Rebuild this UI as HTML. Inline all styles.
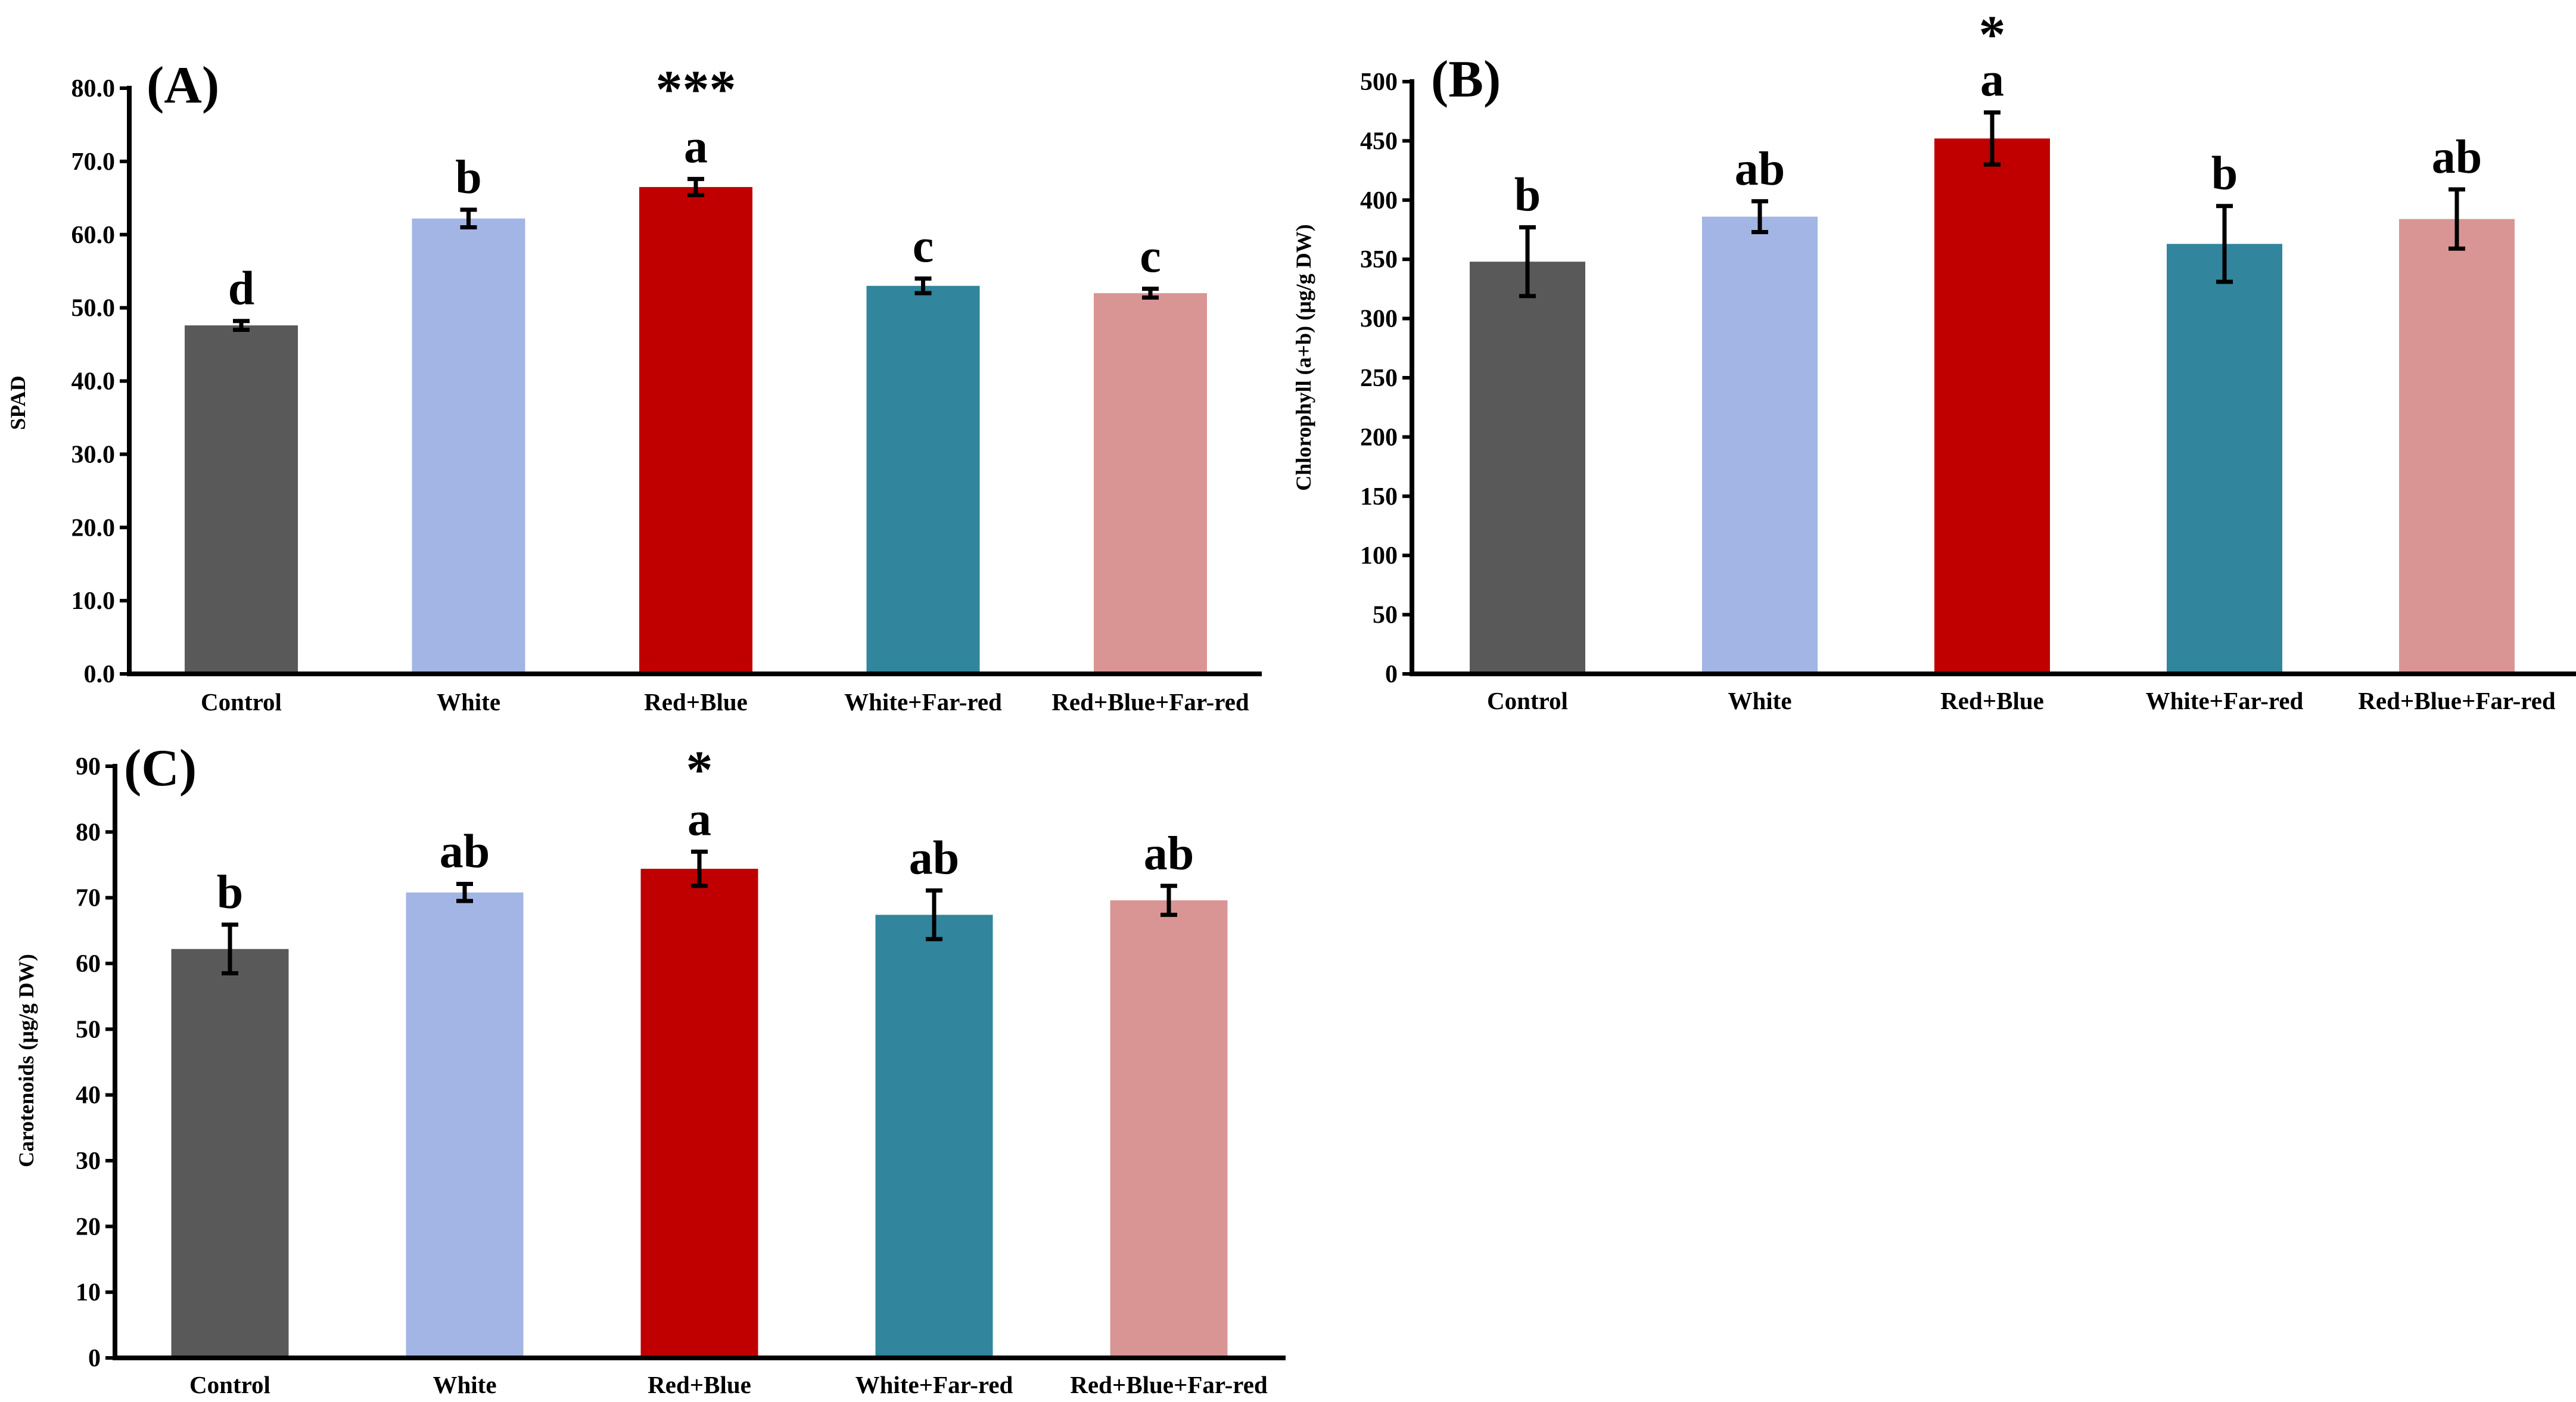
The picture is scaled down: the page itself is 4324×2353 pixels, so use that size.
<!DOCTYPE html>
<html><head><meta charset="utf-8"><style>
html,body{margin:0;padding:0;background:#fff;}
svg{display:block;font-family:"Liberation Serif",serif;font-weight:bold;}
</style></head><body>
<svg id="fig" width="4324" height="2353" viewBox="0 0 4324 2353" xmlns="http://www.w3.org/2000/svg"></svg>
<script>
const categories = ["Control","White","Red+Blue","White+Far-red","Red+Blue+Far-red"];
const colors = ["#595959","#a3b5e4","#c00000","#31859c","#d99594"];
const spadValues = [47.6,62.2,66.5,53.0,52.0];
const spadErrors = [0.6,1.2,1.1,1.0,0.6];
const spadLetters = ["d","b","a","c","c"];
const spadTicks = ["0.0","10.0","20.0","30.0","40.0","50.0","60.0","70.0","80.0"];
const chlValues = [348,386,452,363,384];
const chlErrors = [29,13,22,32,25];
const chlLetters = ["b","ab","a","b","ab"];
const chlTicks = ["0","50","100","150","200","250","300","350","400","450","500"];
const carValues = [62.2,70.8,74.4,67.4,69.6];
const carErrors = [3.7,1.3,2.6,3.7,2.2];
const carLetters = ["b","ab","a","ab","ab"];
const carTicks = ["0","10","20","30","40","50","60","70","80","90"];

const svg = document.getElementById('fig');
const NS = "http://www.w3.org/2000/svg";
function mk(tag, attrs, parent){const e=document.createElementNS(NS,tag);for(const k in attrs)e.setAttribute(k,attrs[k]);(parent||svg).appendChild(e);return e;}

function panel(p){
  const g = mk('g',{});
  
  
  const ticks = p.ticks.map(Number);
  const ymax = ticks[ticks.length-1];
  const y = v => p.y0 - (v/ymax)*(p.y0-p.ytop);
  const x = i => p.xfirst + i*p.step;
  p.ticks.forEach((t,i)=>{
    const yy = y(Number(t));
    const tk = mk('line',{x1:p.ax-16,x2:p.ax,y1:yy,y2:yy,stroke:'#000','stroke-width':6},g);
    
    
    const tl = mk('text',{x:p.ax-24,y:yy+14,'text-anchor':'end','font-size':42},g);
    
    
    tl.textContent = t;
  });
  p.values.forEach((v,i)=>{
    const cx = x(i);
    const b = mk('rect',{x:cx-p.bw/2,y:y(v),width:p.bw,height:p.y0-y(v),fill:colors[i]},g);
    
    
    const e = p.errors[i];
    const eg = mk('g',{stroke:'#000','stroke-width':7},g);
    
    
    mk('line',{x1:cx,x2:cx,y1:y(v+e),y2:y(v-e)},eg);
    mk('line',{x1:cx-14,x2:cx+14,y1:y(v+e),y2:y(v+e)},eg);
    mk('line',{x1:cx-14,x2:cx+14,y1:y(v-e),y2:y(v-e)},eg);
    const lt = mk('text',{x:cx,y:y(v+e)-28,'text-anchor':'middle','font-size':80},g);
    
    
    lt.textContent = p.letters[i];
    const cl = mk('text',{x:cx,y:p.labY,'text-anchor':'middle','font-size':41},g);
    
    
    cl.textContent = categories[i];
  });
  const ya = mk('line',{x1:p.ax,x2:p.ax,y1:p.ytop-4,y2:p.y0+4,stroke:'#000','stroke-width':8},g);
  
  
  const xa = mk('line',{x1:p.ax-4,x2:p.xend,y1:p.y0,y2:p.y0,stroke:'#000','stroke-width':8},g);
  
  
  const tt = mk('text',{x:p.titleX,y:p.titleY,'text-anchor':'middle','font-size':36,transform:`rotate(-90 ${p.titleX} ${p.titleY})`},g);
  
  
  tt.textContent = p.title;
  const pl = mk('text',{x:p.plX,y:p.plY,'font-size':88},g);
  
  
  pl.textContent = p.panel;
  const st = mk('text',{x:x(2),y:p.starY,'text-anchor':'middle','font-size':90},g);
  
  
  st.textContent = p.stars;
}

panel({name:'panel-a-spad',values:spadValues,errors:spadErrors,letters:spadLetters,ticks:spadTicks,
  ax:217,ytop:148,y0:1131,xfirst:405,step:381.5,bw:190,xend:2118,labY:1192,
  title:'SPAD',titleX:42,titleY:676,panel:'(A)',plX:246,plY:172,stars:'***',starY:180});
panel({name:'panel-b-chlorophyll',values:chlValues,errors:chlErrors,letters:chlLetters,ticks:chlTicks,
  ax:2370,ytop:137,y0:1131,xfirst:2564,step:390,bw:194,xend:4324,labY:1190,
  title:'Chlorophyll (a+b) (µg/g DW)',titleX:2200,titleY:600,panel:'(B)',plX:2402,plY:162,stars:'*',starY:88});
panel({name:'panel-c-carotenoids',values:carValues,errors:carErrors,letters:carLetters,ticks:carTicks,
  ax:193,ytop:1286,y0:2279,xfirst:386,step:394,bw:197,xend:2158,labY:2338,
  title:'Carotenoids (µg/g DW)',titleX:56,titleY:1780,panel:'(C)',plX:208,plY:1318,stars:'*',starY:1322});
</script>
</body></html>
